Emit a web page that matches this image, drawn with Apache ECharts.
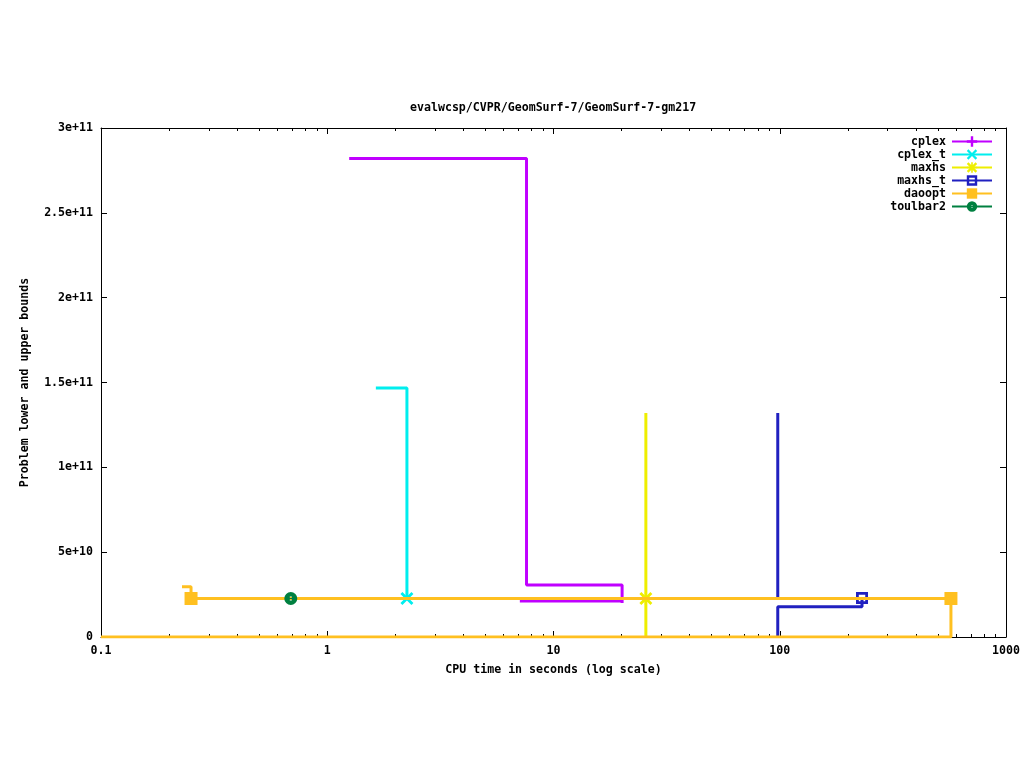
<!DOCTYPE html>
<html>
<head>
<meta charset="utf-8">
<script src="https://cdn.jsdelivr.net/npm/echarts@6/dist/echarts.min.js"></script>
<style>
html,body{margin:0;padding:0;background:#fff;}
#chart{width:1024px;height:768px;}
</style>
</head>
<body>
<div id="chart"></div>
<script>
// ---- data (time in seconds, bound value) ----
const titleText = 'evalwcsp/CVPR/GeomSurf-7/GeomSurf-7-gm217';
const solverNames = ['cplex', 'cplex_t', 'maxhs', 'maxhs_t', 'daoopt', 'toulbar2'];
const yTickLabels = ['0', '5e+10', '1e+11', '1.5e+11', '2e+11', '2.5e+11', '3e+11'];

const cplexUpper = [[1.25, 2.82e11], [7.6, 3.06e10], [20.1, 2.0e10]];
const cplexLower = [[7.1, 2.12e10], [20.1, 2.12e10]];
const cplexMarks = [];

const cplexTUpper = [[1.64, 1.468e11], [2.25, 2.27e10]];
const cplexTLower = [[2.25, 2.27e10]];
const cplexTMarks = [[2.25, 2.27e10]];

const maxhsUpper = [[25.6, 1.32e11], [25.6, 2.27e10]];
const maxhsLower = [[25.6, 0], [25.6, 2.27e10]];
const maxhsMarks = [[25.6, 2.27e10]];

const maxhsTUpper = [[98, 1.32e11], [98, 2.27e10], [231, 2.27e10]];
const maxhsTLower = [[98, 0], [98, 1.79e10], [231, 1.79e10], [231, 2.27e10]];
const maxhsTMarks = [[231, 2.3e10]];

const daooptUpper = [[0.228, 2.96e10], [0.25, 2.27e10], [571, 2.27e10]];
const daooptLower = [[0.1, 0], [571, 0], [571, 2.27e10]];
const daooptMarks = [[0.25, 2.27e10], [571, 2.27e10]];

const toulbar2Upper = [[0.69, 2.27e10]];
const toulbar2Lower = [[0.69, 2.27e10]];
const toulbar2Marks = [[0.69, 2.27e10]];

// ---- styles ----
const colors = {
  'cplex': '#c000ff',
  'cplex_t': '#00eeee',
  'maxhs': '#eeee00',
  'maxhs_t': '#2020c0',
  'daoopt': '#ffc020',
  'toulbar2': '#008040'
};
const symbols = {
  'cplex': 'path://M5,0H8V5H13V8H8V13H5V8H0V5H5Z',
  'cplex_t': 'path://M0,2L2,0L6.5,4.5L11,0L13,2L8.5,6.5L13,11L11,13L6.5,8.5L2,13L0,11L4.5,6.5Z',
  'maxhs': 'path://M0,2L2,0L5.5,3.5V0H7.5V3.5L11,0L13,2L9.5,5.5H13V7.5H9.5L13,11L11,13L7.5,9.5V13H5.5V9.5L2,13L0,11L3.5,7.5H0V5.5H3.5Z',
  'maxhs_t': 'path://M0,0H13V13H0ZM3,3V10H10V3Z',
  'daoopt': 'rect',
  'toulbar2': 'path://M6.5,0A6.5,6.5 0 1 1 6.49,0ZM5.5,4.5V6H7.5V4.5ZM5.5,7V8.5H7.5V7Z'
};
const symbolSizes = {
  'cplex': 13, 'cplex_t': 13, 'maxhs': 13, 'maxhs_t': 12, 'daoopt': 13, 'toulbar2': 13
};

const solverData = {
  'cplex': [cplexUpper, cplexLower, cplexMarks],
  'cplex_t': [cplexTUpper, cplexTLower, cplexTMarks],
  'maxhs': [maxhsUpper, maxhsLower, maxhsMarks],
  'maxhs_t': [maxhsTUpper, maxhsTLower, maxhsTMarks],
  'daoopt': [daooptUpper, daooptLower, daooptMarks],
  'toulbar2': [toulbar2Upper, toulbar2Lower, toulbar2Marks]
};

const FONT = 'DejaVu Sans Mono';
const textBase = { fontFamily: FONT, fontSize: 11.6, fontWeight: 'bold', color: '#000' };

const series = [];
solverNames.forEach((name, i) => {
  const [up, lo, marks] = solverData[name];
  const c = colors[name];
  series.push({
    name: name, type: 'line', step: 'end', data: up,
    symbol: symbols[name], symbolSize: symbolSizes[name], showSymbol: false,
    lineStyle: { color: c, width: 3 }, itemStyle: { color: c },
    z: 10 + i, silent: true, animation: false
  });
  series.push({
    name: name, type: 'line', step: 'end', data: lo,
    symbol: 'none', showSymbol: false,
    lineStyle: { color: c, width: 3 }, itemStyle: { color: c },
    z: 10 + i, silent: true, animation: false
  });
  series.push({
    name: name, type: 'scatter', data: marks,
    symbol: symbols[name], symbolSize: symbolSizes[name],
    itemStyle: { color: c, opacity: 1 },
    z: 10 + i, silent: true, animation: false
  });
});

const chart = echarts.init(document.getElementById('chart'), null, { renderer: 'canvas' });
chart.setOption({
  backgroundColor: '#fff',
  animation: false,
  title: {
    text: titleText, left: 410, top: 102, padding: 0,
    textStyle: Object.assign({}, textBase)
  },
  legend: {
    data: solverNames, orient: 'vertical', right: 31, top: 135, padding: 0,
    align: 'right', itemWidth: 40, itemHeight: 13, itemGap: 0,
    textStyle: Object.assign({}, textBase, { lineHeight: 13, padding: [0, 1, 0, 0] }),
    selectedMode: false
  },
  grid: { left: 101, right: 18, top: 128, bottom: 131, containLabel: false },
  xAxis: [{
    type: 'log', logBase: 10, min: 0.1, max: 1000,
    name: 'CPU time in seconds (log scale)', nameLocation: 'middle', nameGap: 27,
    nameTextStyle: Object.assign({}, textBase),
    axisLine: { onZero: false, lineStyle: { color: '#000', width: 1 } },
    axisTick: { inside: true, length: 6, lineStyle: { color: '#000' } },
    minorTick: { show: true, splitNumber: 9, length: 3, lineStyle: { color: '#000' } },
    axisLabel: Object.assign({ margin: 8, formatter: v => String(v) }, textBase),
    splitLine: { show: false }
  }, {
    type: 'log', logBase: 10, min: 0.1, max: 1000, position: 'top',
    axisLine: { onZero: false, lineStyle: { color: '#000', width: 1 } },
    axisTick: { inside: true, length: 6, lineStyle: { color: '#000' } },
    minorTick: { show: true, splitNumber: 9, length: 3, lineStyle: { color: '#000' } },
    axisLabel: { show: false }, splitLine: { show: false }
  }],
  yAxis: [{
    type: 'value', min: 0, max: 3e11, interval: 5e10,
    name: 'Problem lower and upper bounds', nameLocation: 'middle', nameGap: 70,
    nameTextStyle: Object.assign({}, textBase),
    axisLine: { show: true, onZero: false, lineStyle: { color: '#000', width: 1 } },
    axisTick: { show: true, inside: true, length: 6, lineStyle: { color: '#000' } },
    axisLabel: Object.assign({ margin: 8, formatter: (v, idx) => yTickLabels[Math.round(v / 5e10)] }, textBase),
    splitLine: { show: false }
  }, {
    type: 'value', min: 0, max: 3e11, interval: 5e10, position: 'right',
    axisLine: { show: true, onZero: false, lineStyle: { color: '#000', width: 1 } },
    axisTick: { show: true, inside: true, length: 6, lineStyle: { color: '#000' } },
    axisLabel: { show: false }, splitLine: { show: false }
  }],
  series: series
});
</script>
</body>
</html>
